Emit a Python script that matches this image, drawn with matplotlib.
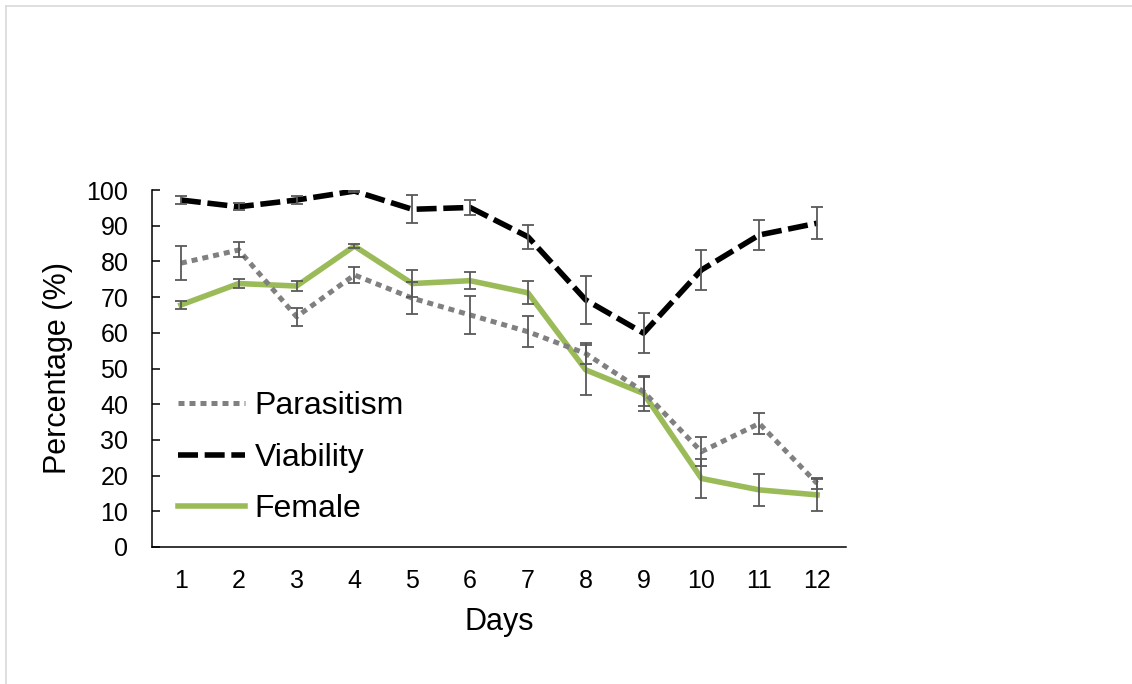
import numpy as np
import matplotlib
matplotlib.use("Agg")
import matplotlib.pyplot as plt
from matplotlib.lines import Line2D

plt.rcParams['font.family'] = ['Liberation Sans', 'DejaVu Sans']

# data
days = [1, 2, 3, 4, 5, 6, 7, 8, 9, 10, 11, 12]

parasitism = [79.5, 83.2, 64.5, 76.2, 69.7, 65.0, 60.3, 54.2, 43.5, 26.7, 34.6, 17.8]
parasitism_err = [4.7, 2.1, 2.5, 2.3, 4.5, 5.3, 4.4, 3.0, 4.0, 4.0, 3.0, 1.5]

viability = [97.2, 95.3, 97.2, 99.7, 94.6, 95.1, 86.9, 69.2, 59.9, 77.6, 87.4, 90.7]
viability_err = [1.0, 1.0, 1.0, 0.3, 3.9, 2.2, 3.4, 6.8, 5.6, 5.5, 4.3, 4.4]

female = [67.8, 73.8, 73.1, 84.3, 73.8, 74.6, 71.2, 49.6, 43.0, 19.2, 16.0, 14.6]
female_err = [1.2, 1.3, 1.3, 0.6, 3.8, 2.3, 3.2, 7.0, 5.0, 5.5, 4.4, 4.4]

fig = plt.figure(figsize=(11.32, 6.84), dpi=100)
ax = fig.add_axes([152 / 1132, 1 - 547 / 684, 694 / 1132, 357 / 684])

# lines
ax.plot(days, female, color='#9bbb59', lw=4.0, label='Female', zorder=2)
ax.plot(days, parasitism, color='#808080', lw=3.6, dashes=(1.2, 1.0),
        label='Parasitism', zorder=3)
ax.plot(days, viability, color='black', lw=4.0, dashes=(3.6, 1.2),
        label='Viability', zorder=4)

# error bars
err_style = dict(fmt='none', ecolor='#595959', elinewidth=1.3,
                 capsize=4.0, capthick=1.3, zorder=5)
ax.errorbar(days, female, yerr=female_err, **err_style)
ax.errorbar(days, parasitism, yerr=parasitism_err, **err_style)
ax.errorbar(days, viability, yerr=viability_err, **err_style)

ax.set_xlim(0.5, 12.5)
ax.set_ylim(0, 100)
ax.set_xticks(days)
ax.set_yticks(np.arange(0, 101, 10))

for side in ['top', 'right']:
    ax.spines[side].set_visible(False)
for side in ['left', 'bottom']:
    ax.spines[side].set_linewidth(1.1)
    ax.spines[side].set_color('black')

ax.tick_params(axis='y', direction='in', length=6, width=1.1,
               labelsize=18, pad=17)
ax.tick_params(axis='x', length=0, labelsize=18, pad=16)

ax.set_xlabel('Days', fontsize=22, labelpad=10)
ax.set_ylabel('Percentage (%)', fontsize=22, labelpad=10)

handles, labels = ax.get_legend_handles_labels()
order = [1, 2, 0]
ax.legend([handles[i] for i in order], [labels[i] for i in order],
          loc='center left', bbox_to_anchor=(0.0375, 0.25),
          frameon=False, fontsize=23, borderpad=0, borderaxespad=0,
          handlelength=2.1, handletextpad=0.3, labelspacing=0.68)

# light grey frame on the left and top
fig.add_artist(Line2D([6 / 1132, 6 / 1132], [0, 1 - 6 / 684],
                      transform=fig.transFigure, color='#d9d9d9', lw=1.2))
fig.add_artist(Line2D([6 / 1132, 1], [1 - 6 / 684, 1 - 6 / 684],
                      transform=fig.transFigure, color='#d9d9d9', lw=1.2))

fig.savefig('out.png', dpi=100)
